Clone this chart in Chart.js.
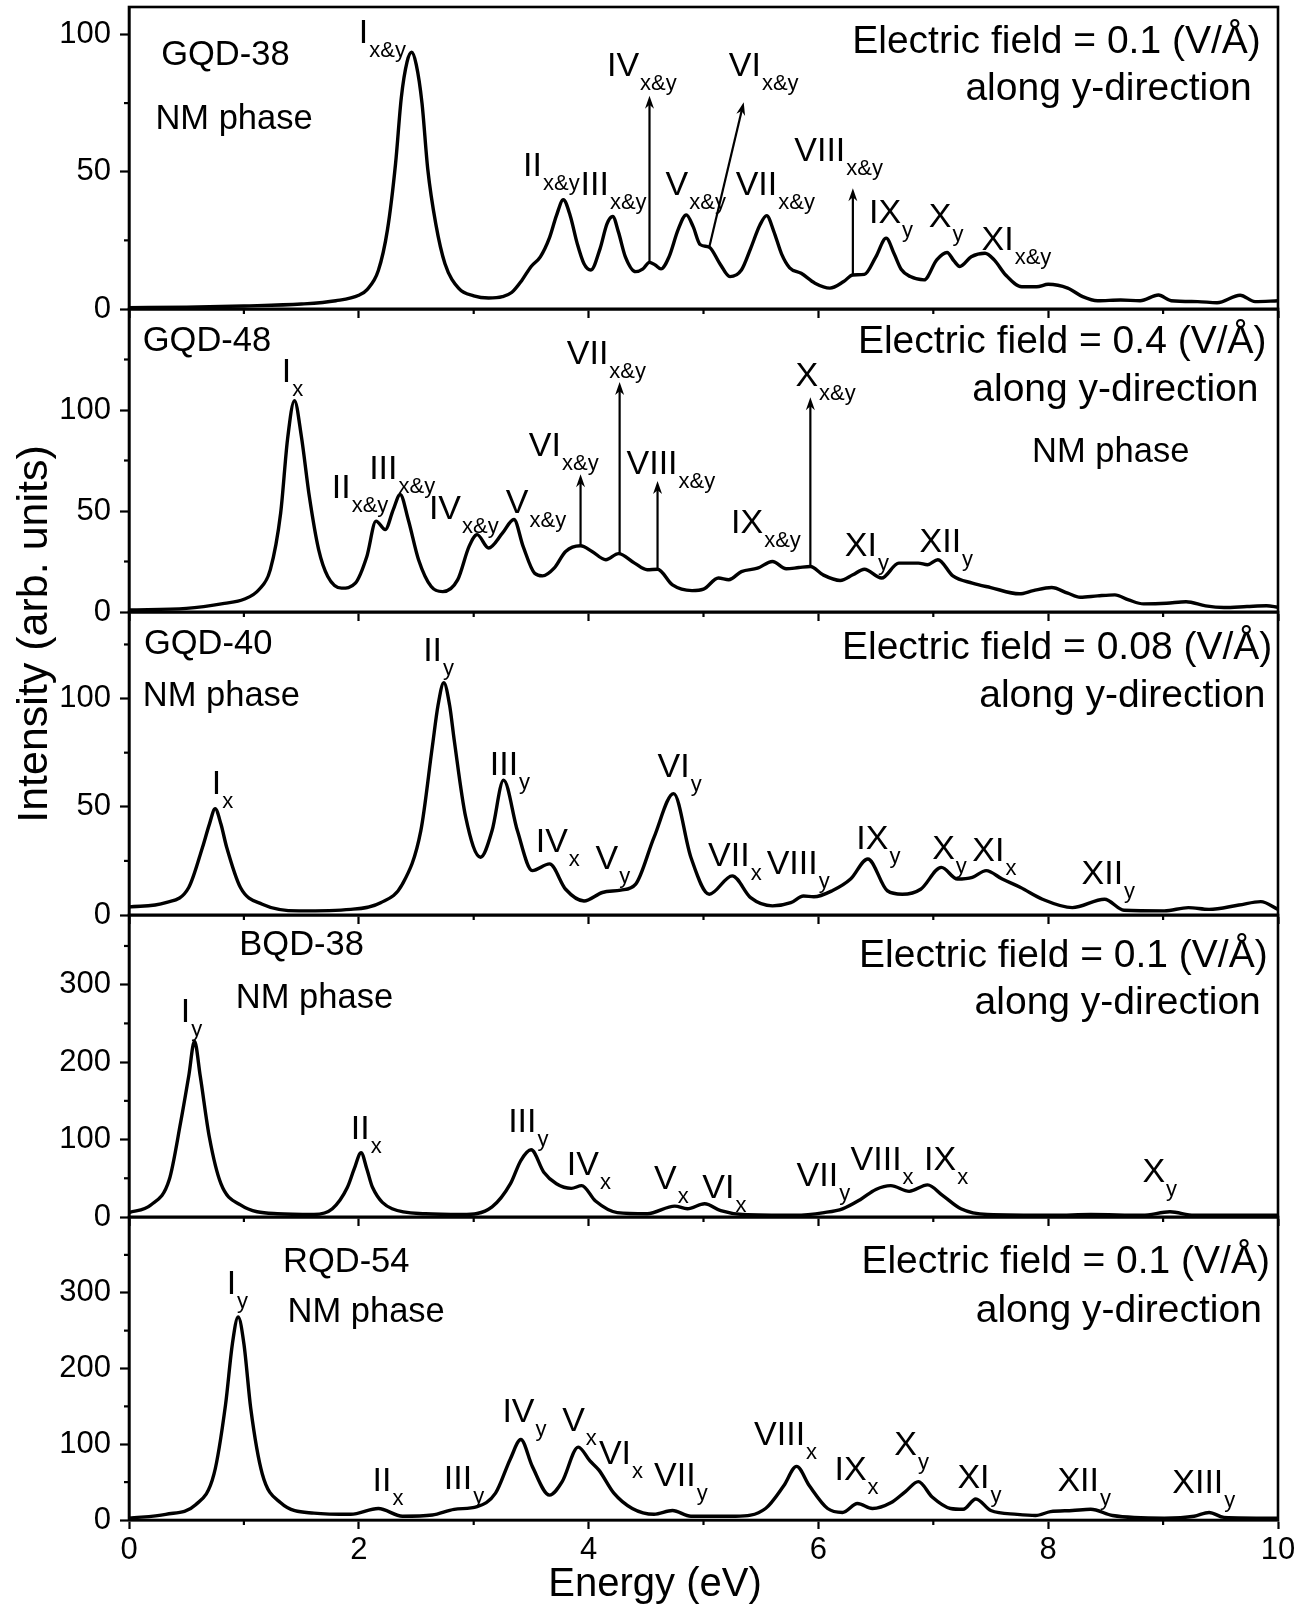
<!DOCTYPE html>
<html lang="en">
<head>
<meta charset="UTF-8">
<title>Absorption spectra under electric field</title>
<script src="https://cdn.jsdelivr.net/npm/chart.js"></script>
<style>
  body { margin: 0; background: #fff; }
  #wrap { position: relative; width: 1309px; height: 1604px; }
  #wrap canvas { position: absolute; left: 0; top: 0; }
</style>
</head>
<body>
<div id="wrap">
  <canvas id="p1" width="1309" height="1604"></canvas>
  <canvas id="p2" width="1309" height="1604"></canvas>
  <canvas id="p3" width="1309" height="1604"></canvas>
  <canvas id="p4" width="1309" height="1604"></canvas>
  <canvas id="p5" width="1309" height="1604"></canvas>
</div>
<script>
// ---- data (energy in eV, intensity in arb. units) ----
const xMajor = [0, 2, 4, 6, 8, 10];
const xMinor = [1, 3, 5, 7, 9];

const gqd38 = [[0,0.5],[0.5,0.7],[1.0,1.1],[1.5,1.8],[1.8,3],[2.0,5],[2.07,7],[2.17,14],[2.25,29],[2.32,53],[2.37,77],[2.42,90],[2.46,93.5],[2.5,89],[2.55,75],[2.6,51],[2.67,31],[2.75,16.5],[2.87,7.5],[3.0,4.8],[3.13,4],[3.25,4.5],[3.33,6],[3.42,10.5],[3.5,15.5],[3.58,19],[3.66,26],[3.72,34],[3.78,39.8],[3.84,34],[3.9,24],[3.96,16.5],[4.02,14.2],[4.1,22],[4.16,31],[4.21,33.7],[4.26,28],[4.32,19],[4.41,13.6],[4.47,14.5],[4.53,17],[4.58,16],[4.63,14.6],[4.7,19],[4.78,29],[4.85,34.3],[4.91,30],[4.97,23.5],[5.05,22.5],[5.14,16.7],[5.23,11.8],[5.33,14.2],[5.41,22],[5.49,30.5],[5.55,34],[5.61,28.5],[5.68,20],[5.75,15],[5.85,13],[5.97,9.4],[6.1,7.6],[6.22,10],[6.3,12.4],[6.4,12.6],[6.5,19],[6.59,25.8],[6.66,20],[6.72,14.5],[6.8,11.8],[6.92,10.6],[7.03,17.9],[7.12,20.6],[7.18,17.5],[7.23,15.5],[7.33,19],[7.45,20.3],[7.53,17.9],[7.63,12.4],[7.77,8.1],[7.9,8.1],[8.0,9],[8.17,7.6],[8.3,4.5],[8.43,3],[8.63,3.3],[8.8,3],[8.96,5.1],[9.07,3],[9.3,2.7],[9.47,2.3],[9.67,5],[9.8,2.7],[10,3]];

const gqd48 = [[0,1],[0.5,1.8],[0.83,4.3],[1.0,6.3],[1.13,11],[1.23,21],[1.32,49],[1.38,85.6],[1.44,104.6],[1.5,87],[1.57,57],[1.65,31],[1.73,17.6],[1.85,11.8],[1.97,14.3],[2.07,27.5],[2.15,45],[2.23,40.8],[2.3,50.7],[2.36,58.2],[2.43,45.8],[2.52,25.9],[2.63,12.6],[2.73,10.1],[2.86,15.9],[2.96,32.5],[3.03,38.3],[3.13,31.7],[3.25,39],[3.35,45.8],[3.43,32.5],[3.53,19.2],[3.6,17.9],[3.7,21.7],[3.8,30],[3.93,32.8],[4.03,30],[4.15,25.9],[4.26,28.9],[4.4,24.2],[4.51,20.9],[4.6,21.2],[4.73,13.4],[4.9,10.6],[5.0,11.3],[5.13,16.8],[5.22,16],[5.33,20],[5.47,21.7],[5.6,25],[5.72,21.4],[5.83,22],[5.93,22.5],[6.04,18.4],[6.19,15.6],[6.3,18.4],[6.4,21.2],[6.55,16.8],[6.7,24.2],[6.87,24.2],[6.95,23.4],[7.04,25.9],[7.17,17.9],[7.34,14.3],[7.5,12.1],[7.75,9],[7.87,10.6],[8.03,12.1],[8.17,9.3],[8.28,7.3],[8.43,8],[8.58,8.5],[8.7,6],[8.83,4],[9.03,4.3],[9.2,5.1],[9.37,3],[9.53,2.2],[9.73,2.7],[9.9,3.1],[10,2.3]];

const gqd40 = [[0,3.7],[0.32,5.7],[0.52,12.7],[0.64,31.3],[0.7,42],[0.75,49.1],[0.8,42],[0.85,31.3],[0.97,12.7],[1.16,5],[1.48,1.9],[1.93,2.6],[2.19,5.7],[2.38,14.3],[2.54,39],[2.64,77.8],[2.69,97],[2.74,107.3],[2.79,97],[2.83,81],[2.93,45.3],[3.06,26.7],[3.16,39],[3.26,62.3],[3.38,39],[3.51,20.5],[3.66,23.6],[3.8,11.9],[3.96,6.5],[4.12,10.4],[4.28,11.5],[4.41,14.3],[4.57,36],[4.74,56.1],[4.89,26.7],[5.05,9.6],[5.25,18.1],[5.41,8],[5.6,4.2],[5.76,5.7],[5.87,8.8],[5.96,8.4],[6.12,11.2],[6.28,16.6],[6.43,25.9],[6.6,11.2],[6.73,9.6],[6.89,11.9],[7.07,22],[7.21,16.6],[7.34,17.4],[7.46,20.5],[7.6,16.6],[7.76,12.7],[7.95,7.3],[8.21,3.4],[8.49,7.3],[8.66,2.2],[9.01,1.9],[9.22,3.4],[9.4,2.6],[9.66,4.6],[9.85,6.2],[10,2.6]];

const bqd38 = [[0,5.7],[0.19,15.6],[0.35,48],[0.45,122.6],[0.52,182],[0.57,227],[0.62,182],[0.7,102.6],[0.8,43],[0.97,15.6],[1.29,4.2],[1.61,3.2],[1.77,10.6],[1.9,38],[1.96,62],[2.02,82.9],[2.07,62],[2.12,38],[2.29,10.6],[2.58,4.2],[2.9,3.2],[3.16,13.1],[3.32,43],[3.41,72.9],[3.5,86.8],[3.61,57.9],[3.72,43],[3.85,37],[3.94,40.5],[4.06,20.6],[4.25,5.7],[4.51,4.2],[4.75,14.1],[4.86,10.6],[5.01,17.1],[5.15,8.2],[5.34,3.2],[5.8,2.2],[6.05,5.7],[6.21,10.6],[6.37,23],[6.5,35.6],[6.63,40.5],[6.79,33.1],[6.95,41.5],[7.08,28],[7.24,10.6],[7.47,3.2],[8.05,2.2],[8.37,3.2],[8.82,2.2],[9.06,6.7],[9.27,2.2],[10,2.2]];

const rqd54 = [[0,2.5],[0.32,7.5],[0.58,20.2],[0.74,60.8],[0.84,152],[0.9,232.8],[0.95,268],[1.0,232.8],[1.06,146.8],[1.16,60.8],[1.32,22.7],[1.61,9.1],[1.93,7.5],[2.17,15.2],[2.38,5],[2.64,6.6],[2.83,14.1],[3.03,17.7],[3.19,35.4],[3.32,81],[3.41,106.2],[3.51,70.8],[3.66,32.9],[3.77,50.6],[3.91,96.2],[4.01,78.3],[4.09,65.8],[4.22,35.4],[4.38,15.2],[4.57,7.5],[4.73,12.5],[4.89,5],[5.28,5],[5.54,15.2],[5.7,45.5],[5.81,70.8],[5.92,45.5],[6.08,15.2],[6.21,10],[6.34,21.7],[6.47,15.2],[6.63,22.7],[6.76,37.9],[6.87,50.6],[6.99,30.4],[7.15,15.2],[7.26,14.1],[7.37,27.8],[7.5,12.5],[7.73,7.5],[7.89,6],[8.02,11],[8.21,12.5],[8.37,14.1],[8.56,6],[9.01,2.5],[9.27,5],[9.4,10],[9.53,3.5],[10,2.5]];

// y-axis ticks per panel
const yMajor1 = [0, 50, 100],      yMinor1 = [25, 75];
const yMajor2 = [0, 50, 100],      yMinor2 = [25, 75, 125];
const yMajor3 = [0, 50, 100],      yMinor3 = [25, 75, 125];
const yMajor4 = [0, 100, 200, 300], yMinor4 = [50, 150, 250, 350];
const yMajor5 = [0, 100, 200, 300], yMinor5 = [50, 150, 250, 350];

// peak labels: [numeral, subscript, energy, intensity at text baseline]
const peaks1 = [['I','x&y',2.0,97],['II','x&y',3.43,48.3],['III','x&y',3.93,41.4],['IV','x&y',4.16,84.8],['V','x&y',4.67,41.4],['VI','x&y',5.22,84.8],['VII','x&y',5.28,41.4],['VIII','x&y',5.79,53.8],['IX','y',6.44,31.3],['X','y',6.96,30],['XI','x&y',7.42,21.5]];
const peaks2 = [['I','x',1.33,113.8],['II','x&y',1.765,56.5],['III','x&y',2.09,65.7],['IV','x&y',2.61,45.8],['V','x&y',3.28,48.8],['VI','x&y',3.48,77.3],['VII','x&y',3.81,122.9],['VIII','x&y',4.33,68.2],['IX','x&y',5.24,39.1],['X','x&y',5.80,112.1],['XI','y',6.23,27.5],['XII','y',6.88,29.5]];
const peaks3 = [['I','x',0.72,56.1],['II','y',2.56,117.3],['III','y',3.14,64.7],['IV','x',3.54,29],['V','y',4.06,21.2],['VI','y',4.6,63.9],['VII','x',5.04,22.8],['VIII','y',5.55,18.9],['IX','y',6.33,30.5],['X','y',6.99,25.9],['XI','x',7.34,25.1],['XII','y',8.29,14.3]];
const peaks4 = [['I','y',0.45,252],['II','x',1.93,100.3],['III','y',3.30,110.4],['IV','x',3.81,54],['V','x',4.57,35.6],['VI','x',4.99,24.2],['VII','y',5.81,40.5],['VIII','x',6.28,60.4],['IX','x',6.92,60.4],['X','y',8.82,45.5]];
const peaks5 = [['I','y',0.85,298.5],['II','x',2.12,37.9],['III','y',2.74,40.4],['IV','y',3.25,129],['V','x',3.77,117.4],['VI','x',4.09,73.3],['VII','y',4.57,45.5],['VIII','x',5.44,98.7],['IX','x',6.14,53.1],['X','y',6.66,86],['XI','y',7.21,42.9],['XII','y',8.08,37.9],['XIII','y',9.08,35.4]];

// arrows: [from energy, from intensity, to energy, to intensity]
const arrows1 = [[4.53,17,4.53,77.7],[5.05,22.5,5.35,75.3],[6.30,12.4,6.30,44]];
const arrows2 = [[3.93,32.8,3.93,68.2],[4.27,28.9,4.27,113.8],[4.60,21.2,4.60,64.8],[5.93,22.5,5.93,106.3]];

// panel notes: [text, energy, intensity at baseline, kind]
const notes1 = [['GQD-38',0.28,88.8,'name'],['NM phase',0.23,65.6,'name'],['Electric field = 0.1 (V/Å)',9.85,93.4,'field'],['along y-direction',9.77,76.3,'field']];
const notes2 = [['GQD-48',0.12,129,'name'],['NM phase',7.86,74.1,'name'],['Electric field = 0.4 (V/Å)',9.90,128.4,'field'],['along y-direction',9.83,104.6,'field']];
const notes3 = [['GQD-40',0.13,120.5,'name'],['NM phase',0.12,96.7,'name'],['Electric field = 0.08 (V/Å)',9.95,118.1,'field'],['along y-direction',9.89,96.3,'field']];
const notes4 = [['BQD-38',0.96,338,'name'],['NM phase',0.93,270,'name'],['Electric field = 0.1 (V/Å)',9.91,323.4,'field'],['along y-direction',9.85,262.3,'field']];
const notes5 = [['RQD-54',1.34,328,'name'],['NM phase',1.38,262,'name'],['Electric field = 0.1 (V/Å)',9.93,326.3,'field'],['along y-direction',9.86,262,'field']];

// ---- layout / style ----
const FONT = "'Liberation Sans', Arial, Helvetica, sans-serif";
const XH = 70;           // height reserved for the x axis box
const AXW = 2.6;         // axis / frame line width
const noteStyle = {
  name:  { size: 34.5, align: 'left' },
  field: { size: 39,   align: 'right' }
};

Chart.defaults.font.family = FONT;
Chart.defaults.color = '#000';

function line(ctx, x1, y1, x2, y2) {
  ctx.beginPath(); ctx.moveTo(x1, y1); ctx.lineTo(x2, y2); ctx.stroke();
}

function panelPlugin(p) {
  return {
    id: 'panelExtras',
    afterDraw(chart) {
      const { ctx, chartArea: a, scales: { x, y } } = chart;
      ctx.save();
      ctx.strokeStyle = '#000';
      ctx.fillStyle = '#000';

      // frame
      ctx.lineWidth = AXW;
      ctx.strokeRect(a.left, a.top, a.right - a.left, a.bottom - a.top);

      // minor ticks
      ctx.lineWidth = 2.2;
      xMinor.forEach(v => { const px = x.getPixelForValue(v); line(ctx, px, a.bottom, px, a.bottom + 5); });
      p.yMinor.forEach(v => { const py = y.getPixelForValue(v); line(ctx, a.left - 5, py, a.left, py); });

      // arrows
      (p.arrows || []).forEach(([e0, i0, e1, i1]) => {
        const x0 = x.getPixelForValue(e0), y0 = y.getPixelForValue(i0);
        const x1 = x.getPixelForValue(e1), y1 = y.getPixelForValue(i1);
        const ang = Math.atan2(y1 - y0, x1 - x0);
        const hl = 13, hw = 4.5;
        ctx.lineWidth = 2.2;
        line(ctx, x0, y0, x1 - Math.cos(ang) * hl * 0.6, y1 - Math.sin(ang) * hl * 0.6);
        ctx.beginPath();
        ctx.moveTo(x1, y1);
        ctx.lineTo(x1 - Math.cos(ang) * hl - Math.sin(ang) * hw, y1 - Math.sin(ang) * hl + Math.cos(ang) * hw);
        ctx.lineTo(x1 - Math.cos(ang) * hl * 0.7, y1 - Math.sin(ang) * hl * 0.7);
        ctx.lineTo(x1 - Math.cos(ang) * hl + Math.sin(ang) * hw, y1 - Math.sin(ang) * hl - Math.cos(ang) * hw);
        ctx.closePath();
        ctx.fill();
      });

      // peak labels
      ctx.textBaseline = 'alphabetic';
      ctx.textAlign = 'left';
      p.peaks.forEach(([main, sub, e, v]) => {
        const px = x.getPixelForValue(e), py = y.getPixelForValue(v);
        ctx.font = `34px ${FONT}`;
        ctx.fillText(main, px, py);
        const w = ctx.measureText(main).width;
        ctx.font = `22px ${FONT}`;
        ctx.fillText(sub, px + w + 1, py + 14);
      });

      // panel notes
      p.notes.forEach(([txt, e, v, kind]) => {
        const st = noteStyle[kind];
        ctx.font = `${st.size}px ${FONT}`;
        ctx.textAlign = st.align;
        ctx.fillText(txt, x.getPixelForValue(e), y.getPixelForValue(v));
      });

      // axis titles on the bottom panel
      if (p.titles) {
        ctx.textAlign = 'center';
        ctx.font = `40px ${FONT}`;
        ctx.fillText('Energy (eV)', 655, 1596);
        ctx.save();
        ctx.translate(47, 634);
        ctx.rotate(-Math.PI / 2);
        ctx.font = `43px ${FONT}`;
        ctx.fillText('Intensity (arb. units)', 0, 0);
        ctx.restore();
      }
      ctx.restore();
    }
  };
}

function makePanel(id, p) {
  new Chart(document.getElementById(id), {
    type: 'line',
    data: {
      datasets: [{
        data: p.points.map(([e, v]) => ({ x: e, y: v })),
        borderColor: '#000',
        borderWidth: 3.4,
        pointRadius: 0,
        fill: false,
        cubicInterpolationMode: 'monotone'
      }]
    },
    options: {
      responsive: false,
      animation: false,
      events: [],
      layout: { padding: { left: 0, right: 31, top: p.top, bottom: 1604 - p.bottom - XH } },
      plugins: { legend: { display: false }, tooltip: { enabled: false } },
      scales: {
        x: {
          type: 'linear', min: 0, max: 10,
          afterBuildTicks: s => { s.ticks = xMajor.map(v => ({ value: v })); },
          afterFit: s => { s.height = XH; s.paddingLeft = 0; s.paddingRight = 0; },
          ticks: { display: !!p.titles, autoSkip: false, maxRotation: 0, padding: 3, font: { size: 31 }, color: '#000' },
          grid: { drawOnChartArea: false, tickLength: 9, tickWidth: 2.2, tickColor: '#000' },
          border: { color: '#000', width: AXW }
        },
        y: {
          min: 0, max: p.yMax,
          afterBuildTicks: s => { s.ticks = p.yMajor.map(v => ({ value: v })); },
          afterFit: s => { s.width = 129; s.paddingTop = 0; s.paddingBottom = 0; },
          ticks: { autoSkip: false, padding: 9, font: { size: 31 }, color: '#000' },
          grid: { drawOnChartArea: false, tickLength: 9, tickWidth: 2.2, tickColor: '#000' },
          border: { color: '#000', width: AXW }
        }
      }
    },
    plugins: [panelPlugin(p)]
  });
}

makePanel('p1', { points: gqd38, top: 7,    bottom: 309,  yMax: 110, yMajor: yMajor1, yMinor: yMinor1, peaks: peaks1, notes: notes1, arrows: arrows1 });
makePanel('p2', { points: gqd48, top: 309,  bottom: 612,  yMax: 150, yMajor: yMajor2, yMinor: yMinor2, peaks: peaks2, notes: notes2, arrows: arrows2 });
makePanel('p3', { points: gqd40, top: 612,  bottom: 915,  yMax: 140, yMajor: yMajor3, yMinor: yMinor3, peaks: peaks3, notes: notes3 });
makePanel('p4', { points: bqd38, top: 915,  bottom: 1217, yMax: 390, yMajor: yMajor4, yMinor: yMinor4, peaks: peaks4, notes: notes4 });
makePanel('p5', { points: rqd54, top: 1217, bottom: 1520, yMax: 400, yMajor: yMajor5, yMinor: yMinor5, peaks: peaks5, notes: notes5, titles: true });
</script>
</body>
</html>
